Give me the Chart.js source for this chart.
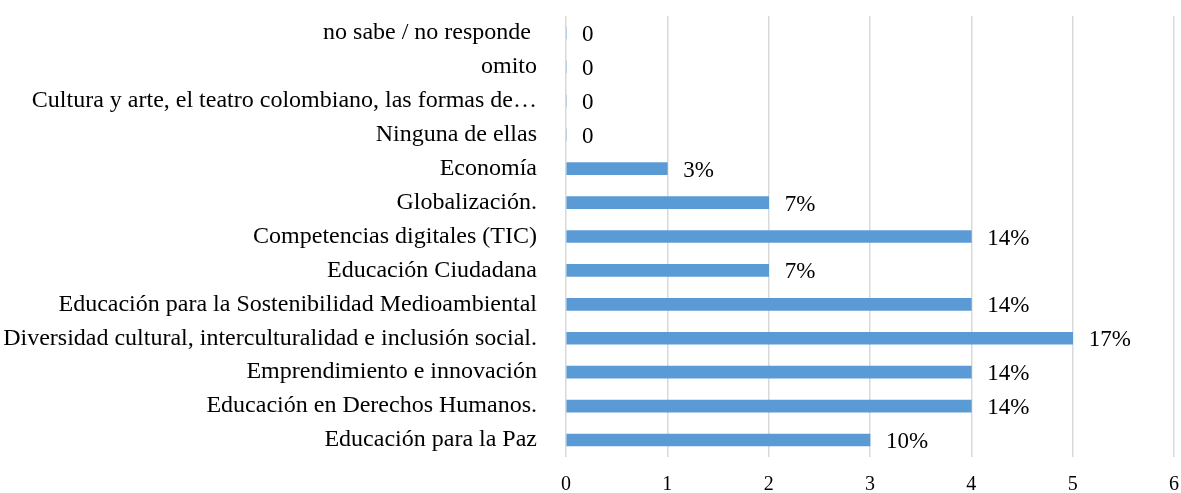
<!DOCTYPE html>
<html>
<head>
<meta charset="utf-8">
<script src="https://cdn.jsdelivr.net/npm/chart.js@4/dist/chart.umd.min.js"></script>
<style>
  html, body { margin: 0; padding: 0; background: #fff; }
  #wrap { width: 1181px; height: 493px; }
</style>
</head>
<body>
<div id="wrap"><canvas id="myChart" width="1181" height="493"></canvas></div>
<script>
// categories top to bottom
const categories = [
  "no sabe / no responde ",
  "omito",
  "Cultura y arte, el teatro colombiano, las formas de\u2026",
  "Ninguna de ellas",
  "Economía",
  "Globalización.",
  "Competencias digitales (TIC)",
  "Educación Ciudadana",
  "Educación para la Sostenibilidad Medioambiental",
  "Diversidad cultural, interculturalidad e inclusión social.",
  "Emprendimiento e innovación",
  "Educación en Derechos Humanos.",
  "Educación para la Paz"
];
const counts = [0, 0, 0, 0, 1, 2, 4, 2, 4, 5, 4, 4, 3];
const valueLabels = ["0", "0", "0", "0", "3%", "7%", "14%", "7%", "14%", "17%", "14%", "14%", "10%"];
const xTicks = [0, 1, 2, 3, 4, 5, 6];

const serif = "'Liberation Serif', 'Times New Roman', serif";

// draws the value text after each bar end
const barLabels = {
  id: "barLabels",
  afterDatasetsDraw(chart) {
    const ctx = chart.ctx;
    const meta = chart.getDatasetMeta(0);
    ctx.save();
    ctx.font = "23px " + serif;
    ctx.fillStyle = "#000";
    ctx.textAlign = "left";
    ctx.textBaseline = "middle";
    meta.data.forEach((bar, i) => {
      ctx.fillText(valueLabels[i], bar.x + 16, bar.y + 2);
    });
    ctx.restore();
  }
};

let ctx = document.getElementById("myChart");
let myChart = new Chart(ctx, {
  type: "bar",
  data: {
    labels: categories,
    datasets: [{
      data: counts,
      backgroundColor: "#5B9BD5",
      barThickness: 12
    }]
  },
  options: {
    indexAxis: "y",
    responsive: false,
    animation: false,
    layout: { padding: { left: 0, right: 7, top: 16, bottom: 0 } },
    plugins: {
      legend: { display: false },
      tooltip: { enabled: false }
    },
    scales: {
      x: {
        min: 0,
        max: 6,
        afterBuildTicks(scale) {
          scale.ticks = xTicks.map(v => ({ value: v }));
        },
        grid: { color: "#d9d9d9", lineWidth: 1.5, drawTicks: false },
        border: { display: false },
        ticks: {
          padding: 16,
          color: "#000",
          font: { family: serif, size: 20 }
        },
        afterFit(scale) {
          scale.height = 36;
          scale.paddingLeft = 0;
          scale.paddingRight = 0;
        }
      },
      y: {
        grid: { display: false },
        border: { display: false },
        ticks: {
          padding: 21,
          color: "#000",
          autoSkip: false,
          font: { family: serif, size: 24 }
        },
        afterFit(scale) {
          scale.width = 566;
          scale.paddingTop = 0;
          scale.paddingBottom = 0;
        }
      }
    }
  },
  plugins: [barLabels]
});
</script>
</body>
</html>
